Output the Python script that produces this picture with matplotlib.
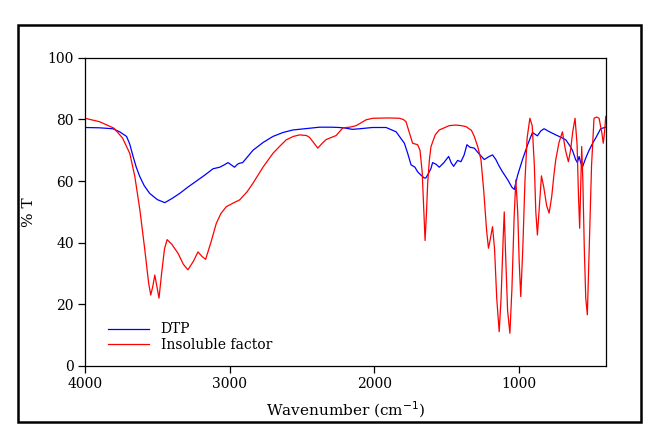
import numpy as np
import matplotlib.pyplot as plt
from matplotlib.patches import Rectangle

# FTIR spectra (wavenumber cm-1, %T)
dtp_wn = [4000, 3900, 3807, 3760, 3712, 3690, 3667, 3645, 3621, 3590, 3552, 3500,
          3448, 3400, 3345, 3290, 3230, 3170, 3115, 3069, 3040, 3011, 2990, 2966,
          2945, 2931, 2910, 2885, 2839, 2770, 2701, 2630, 2563, 2480, 2379, 2300,
          2241, 2200, 2152, 2100, 2014, 1919, 1850, 1793, 1770, 1747, 1720, 1701,
          1680, 1655, 1645, 1632, 1610, 1598, 1575, 1552, 1520, 1487, 1470, 1453,
          1425, 1402, 1380, 1361, 1340, 1310, 1280, 1241, 1207, 1184, 1161, 1140,
          1115, 1080, 1050, 1034, 1010, 977, 940, 908, 890, 874, 850, 828, 790,
          747, 710, 678, 650, 632, 610, 598, 586, 575, 563, 540, 517, 490, 471,
          437, 402]
dtp_t = [77.4, 77.3, 77.0, 76.0, 74.5, 72.0, 68.0, 64.5, 61.5, 58.5, 56.0, 54.0,
         53.0, 54.3, 56.0, 58.0, 60.0, 62.0, 64.0, 64.5, 65.2, 66.0, 65.3, 64.5,
         65.5, 65.8, 66.0, 67.4, 70.0, 72.5, 74.5, 75.8, 76.6, 77.0, 77.5, 77.5,
         77.4, 77.2, 76.8, 77.0, 77.4, 77.4, 76.0, 72.3, 69.0, 65.3, 64.5, 63.0,
         62.0, 61.0, 61.0, 62.0, 64.0, 66.0, 65.5, 64.5, 66.0, 68.0, 66.0, 64.8,
         66.7, 66.3, 68.5, 71.8, 71.0, 70.7, 69.0, 67.0, 68.0, 68.5, 67.0, 65.0,
         63.0, 60.5, 58.0, 57.3, 62.0, 67.0, 72.0, 75.8, 75.2, 74.7, 76.3, 77.0, 76.0,
         75.0, 74.2, 73.4, 71.5, 70.0, 67.0, 66.0, 68.0, 66.0, 64.5, 67.5, 70.0, 72.5, 74.0,
         77.0, 77.5]

ins_wn = [4000, 3900, 3800, 3740, 3690, 3655, 3620, 3586, 3560, 3545, 3530, 3517,
          3500, 3488, 3470, 3450, 3432, 3400, 3357, 3320, 3288, 3250, 3219, 3190,
          3166, 3130, 3092, 3060, 3023, 2970, 2931, 2880, 2839, 2770, 2701, 2650,
          2609, 2560, 2517, 2470, 2448, 2420, 2391, 2360, 2333, 2264, 2218, 2170,
          2126, 2090, 2057, 2011, 1900, 1828, 1800, 1782, 1760, 1736, 1701, 1685,
          1670, 1660, 1650, 1640, 1632, 1620, 1609, 1580, 1552, 1483, 1437, 1400,
          1368, 1330, 1310, 1285, 1264, 1245, 1225, 1212, 1200, 1184, 1170, 1155,
          1138, 1125, 1110, 1103, 1095, 1080, 1064, 1050, 1035, 1023, 1010, 1000,
          989, 975, 960, 945, 926, 910, 895, 885, 874, 860, 846, 830, 810, 793,
          775, 760, 747, 725, 701, 680, 660, 645, 630, 614, 600, 590, 582, 575,
          568, 560, 550, 540, 529, 515, 500, 483, 465, 448, 430, 419, 410, 402]
ins_t = [80.4, 79.3, 77.2, 74.0, 69.0, 61.5, 50.6, 37.7, 27.0, 23.0, 26.0, 29.5,
         25.0, 22.0, 30.0, 38.0, 41.0, 39.5, 36.6, 33.0, 31.2, 34.0, 37.0, 35.5,
         34.6, 40.0, 46.3, 49.5, 51.7, 53.0, 53.9, 56.5, 59.3, 64.5, 69.0, 71.5,
         73.4, 74.5, 75.0, 74.8, 74.2, 72.5, 70.7, 72.3, 73.5, 74.8, 77.3, 77.5,
         78.0, 79.0, 79.9, 80.4, 80.5, 80.4, 80.0, 79.3, 76.0, 72.3, 71.8, 70.0,
         63.0, 52.0, 40.7, 50.0, 59.3, 67.0, 71.2, 75.0, 76.6, 78.0, 78.2, 78.0,
         77.7, 76.5, 74.5, 71.0, 67.0, 57.0, 44.0, 38.2, 41.0, 45.2, 38.0, 22.0,
         11.1, 22.0, 42.0, 50.0, 38.0, 18.0, 10.6, 25.0, 48.0, 60.4, 50.0, 34.0,
         22.5, 38.0, 60.0, 74.0, 80.4, 78.0, 65.0, 50.0, 42.5, 52.0, 61.7, 58.0, 52.0, 49.6,
         55.0, 62.0, 67.0, 72.5, 76.0, 70.0, 66.3, 70.0, 76.0, 80.4, 72.0, 55.0, 44.7, 58.0,
         71.2, 60.0, 38.0, 22.0, 16.6, 40.0, 65.0, 80.4, 80.8, 80.4, 76.0, 72.3, 76.0, 81.0]

xticks = [4000, 3000, 2000, 1000]
yticks = [0, 20, 40, 60, 80, 100]

plt.rcParams['font.family'] = ['DejaVu Serif']

fig = plt.figure(figsize=(6.58, 4.32), dpi=100)
ax = fig.add_axes([0.129, 0.153, 0.792, 0.713])

ax.plot(dtp_wn, dtp_t, color='#0000ff', lw=0.9, label='DTP')
ax.plot(ins_wn, ins_t, color='#ff0000', lw=0.9, label='Insoluble factor')

ax.set_xlim(4000, 400)
ax.set_ylim(0, 100)
ax.set_xticks(xticks)
ax.set_yticks(yticks)
ax.tick_params(labelsize=10, length=5, width=0.9, direction='out', pad=3)
for s in ax.spines.values():
    s.set_linewidth(0.9)

ax.set_xlabel('Wavenumber (cm$^{-1}$)', fontsize=11, labelpad=6)
ax.set_ylabel('% T', fontsize=11, labelpad=8)

ax.legend(loc='lower left', bbox_to_anchor=(0.02, 0.005), frameon=False,
          fontsize=10, handlelength=3.0, handletextpad=0.8, labelspacing=0.1)

# outer frame around the whole chart
fig.patches.append(Rectangle((0.027, 0.022), 0.947, 0.92, transform=fig.transFigure,
                             fill=False, lw=1.8, edgecolor='black'))

fig.savefig('out.png', dpi=100)
